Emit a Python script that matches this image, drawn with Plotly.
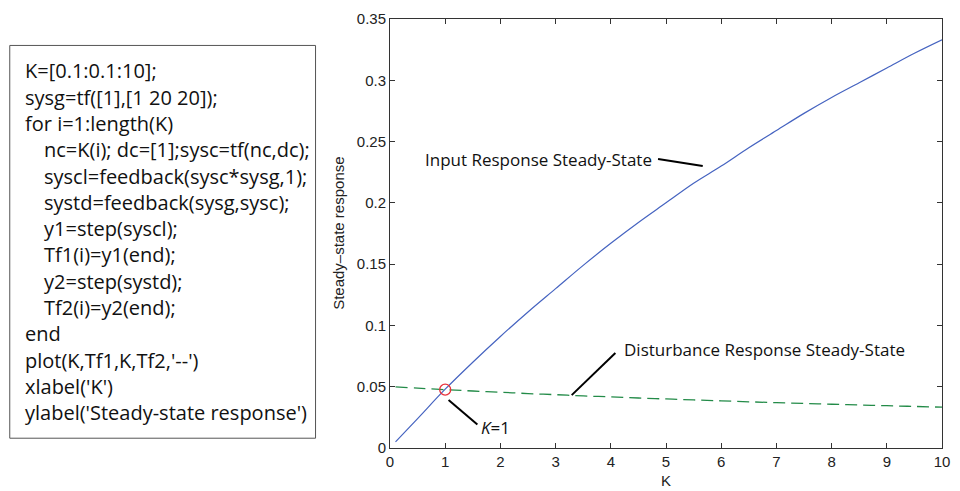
import plotly.graph_objects as go

# ---- data ----
K = [0.1, 0.5, 1, 1.5, 2, 2.5, 3, 3.5, 4, 4.5, 5, 5.5, 6, 6.5, 7, 7.5, 8, 8.5, 9, 9.5, 10]
Tf1 = [0.005, 0.024, 0.048, 0.070, 0.091, 0.111, 0.130, 0.149, 0.167, 0.184, 0.200,
       0.216, 0.230, 0.245, 0.259, 0.273, 0.286, 0.298, 0.310, 0.322, 0.333]
Tf2 = [0.0499, 0.0488, 0.0476, 0.0465, 0.0455, 0.0444, 0.0435, 0.0425, 0.0417, 0.0408, 0.0400,
       0.0392, 0.0385, 0.0377, 0.0370, 0.0364, 0.0357, 0.0351, 0.0345, 0.0339, 0.0333]
K_mark = [1]
Tf_mark = [0.0476]

code_lines = [
    "K=[0.1:0.1:10];",
    "sysg=tf([1],[1 20 20]);",
    "for i=1:length(K)",
    "   nc=K(i); dc=[1];sysc=tf(nc,dc);",
    "   syscl=feedback(sysc*sysg,1);",
    "   systd=feedback(sysg,sysc);",
    "   y1=step(syscl);",
    "   Tf1(i)=y1(end);",
    "   y2=step(systd);",
    "   Tf2(i)=y2(end);",
    "end",
    "plot(K,Tf1,K,Tf2,'--')",
    "xlabel('K')",
    "ylabel('Steady-state response')",
]

W, H = 960, 491
L, R, T, B = 390, 946, 10, 448

def px(x):
    return (x - L) / (R - L)

def py(y):
    return (B - y) / (B - T)

fig = go.Figure()
fig.add_trace(go.Scatter(x=K, y=Tf1, mode="lines", line=dict(color="#4563c0", width=1.2, shape="spline"),
                         showlegend=False, hoverinfo="skip"))
fig.add_trace(go.Scatter(x=K, y=Tf2, mode="lines", line=dict(color="#238b48", width=1.3, dash="12px,6px", shape="spline"),
                         showlegend=False, hoverinfo="skip"))
fig.add_trace(go.Scatter(x=K_mark, y=Tf_mark, mode="markers",
                         marker=dict(symbol="circle-open", size=11, color="#e8323c", line=dict(width=1.3)),
                         showlegend=False, hoverinfo="skip"))

axis_font = dict(family="Liberation Sans, Arial, sans-serif", size=15, color="#222")
fig.update_layout(
    width=W, height=H,
    margin=dict(l=L, r=W - R, t=T, b=H - B),
    paper_bgcolor="white", plot_bgcolor="white",
    xaxis=dict(range=[0, 10], dtick=1, ticks="inside", ticklen=5, tickcolor="#333",
               showline=True, linecolor="#333", linewidth=1, mirror="ticks",
               showgrid=False, zeroline=False, tickfont=axis_font),
    yaxis=dict(range=[0, 0.35], dtick=0.05, ticks="inside", ticklen=5, tickcolor="#333",
               showline=True, linecolor="#333", linewidth=1, mirror="ticks",
               showgrid=False, zeroline=False, tickfont=axis_font),
)

# axis titles
fig.add_annotation(x=px(668), y=py(481), xref="paper", yref="paper", text="K", showarrow=False,
                   font=axis_font, xanchor="center", yanchor="middle")
fig.add_annotation(x=px(338), y=py(229), xref="paper", yref="paper", text="Steady–state response",
                   showarrow=False, textangle=-90, font=axis_font, xanchor="center", yanchor="middle")

# code box
fig.add_shape(type="rect", xref="paper", yref="paper", x0=px(7), x1=px(315), y0=py(438), y1=py(37),
              line=dict(color="#555", width=1), fillcolor="white", layer="above")
code_font = dict(family="Open Sans, Lato, sans-serif", size=20, color="#111")
first, last = 63, 412
step = (last - first) / (len(code_lines) - 1)
for i, ln in enumerate(code_lines):
    indent = ln.startswith("   ")
    fig.add_annotation(x=px(39 if indent else 20), y=py(first + i * step), xref="paper", yref="paper",
                       text=ln.strip(), showarrow=False, xanchor="left", yanchor="middle", font=code_font)

ann_font = dict(family="Open Sans, Lato, sans-serif", size=17, color="#111")
fig.add_annotation(x=px(423), y=py(153), xref="paper", yref="paper", text="Input Response Steady-State",
                   showarrow=False, xanchor="left", yanchor="middle", font=ann_font)
fig.add_shape(type="line", xref="paper", yref="paper", x0=px(660), y0=py(153), x1=px(705), y1=py(160),
              line=dict(color="black", width=2))
fig.add_annotation(x=px(624), y=py(347), xref="paper", yref="paper", text="Disturbance Response Steady-State",
                   showarrow=False, xanchor="left", yanchor="middle", font=ann_font)
fig.add_shape(type="line", xref="paper", yref="paper", x0=px(617), y0=py(351), x1=px(573), y1=py(394),
              line=dict(color="black", width=2))
fig.add_annotation(x=px(480), y=py(427), xref="paper", yref="paper", text="<i>K</i>=1",
                   showarrow=False, xanchor="left", yanchor="middle", font=ann_font)
fig.add_shape(type="line", xref="paper", yref="paper", x0=px(449), y0=py(399), x1=px(478), y1=py(424),
              line=dict(color="black", width=2))

fig.write_html("out.html", config={"displayModeBar": False},
               post_script="document.body.style.margin='0';")
